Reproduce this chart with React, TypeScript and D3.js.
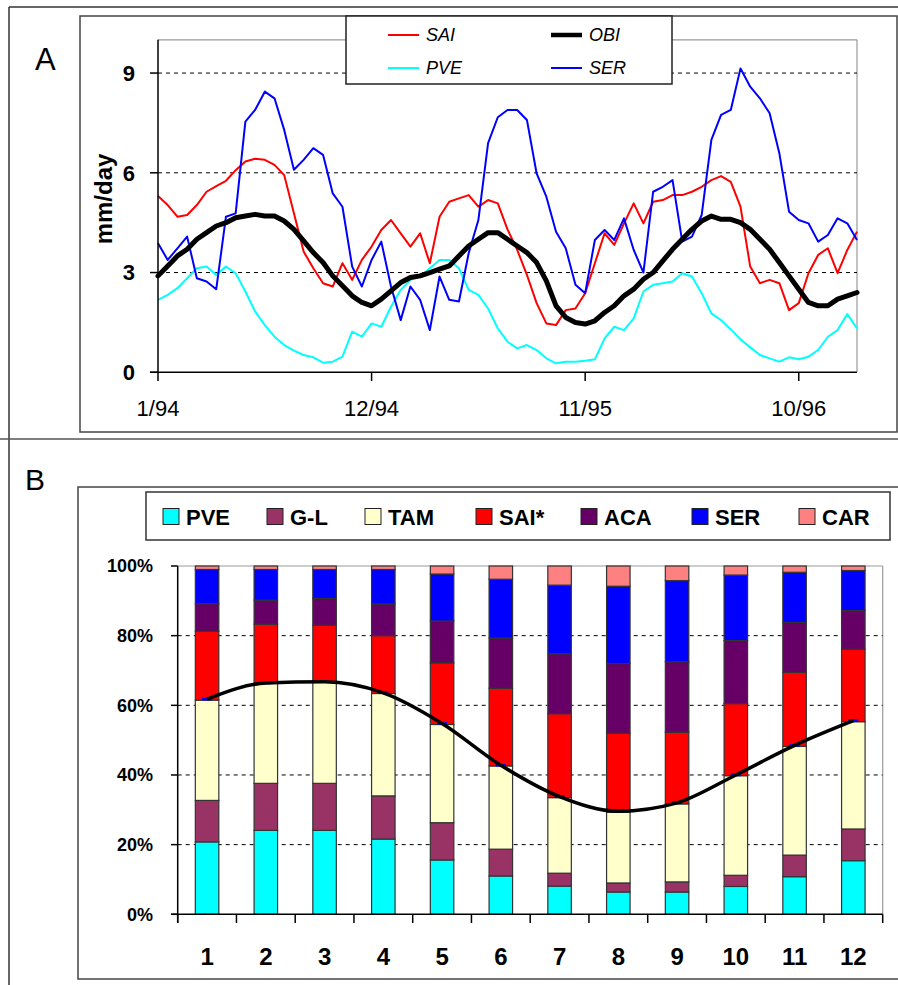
import React from 'react';
import * as d3 from 'd3';

// ---------- Panel A data (mm/day, semi-monthly samples from 1/94) ----------
const SAI = [5.30, 5.03, 4.68, 4.73, 5.03, 5.43, 5.60, 5.76, 6.08, 6.34, 6.42, 6.39, 6.24, 5.93, 4.78, 3.63, 3.13, 2.68, 2.58, 3.28, 2.78, 3.38, 3.78, 4.28, 4.58, 4.18, 3.78, 4.18, 3.28, 4.68, 5.13, 5.23, 5.33, 4.98, 5.18, 5.08, 4.30, 3.68, 2.93, 2.08, 1.47, 1.42, 1.87, 1.92, 2.38, 3.28, 4.18, 3.83, 4.48, 5.08, 4.48, 5.13, 5.18, 5.33, 5.33, 5.43, 5.58, 5.78, 5.90, 5.73, 4.98, 3.18, 2.68, 2.78, 2.68, 1.87, 2.08, 2.98, 3.53, 3.73, 2.98, 3.68, 4.23];
const OBI = [2.90, 3.20, 3.50, 3.70, 4.00, 4.20, 4.40, 4.50, 4.65, 4.70, 4.75, 4.70, 4.70, 4.55, 4.30, 3.95, 3.60, 3.30, 2.90, 2.60, 2.30, 2.10, 2.00, 2.20, 2.45, 2.70, 2.85, 2.90, 3.00, 3.10, 3.20, 3.50, 3.80, 4.00, 4.20, 4.20, 4.00, 3.80, 3.60, 3.30, 2.75, 2.00, 1.65, 1.50, 1.45, 1.55, 1.80, 2.00, 2.30, 2.50, 2.80, 3.00, 3.35, 3.70, 4.00, 4.30, 4.55, 4.70, 4.60, 4.60, 4.50, 4.30, 4.00, 3.70, 3.30, 2.90, 2.50, 2.10, 2.00, 2.00, 2.20, 2.30, 2.40];
const PVE = [2.18, 2.33, 2.53, 2.83, 3.13, 3.18, 2.93, 3.18, 2.98, 2.43, 1.83, 1.42, 1.07, 0.82, 0.65, 0.52, 0.45, 0.29, 0.32, 0.47, 1.22, 1.07, 1.47, 1.37, 1.97, 2.48, 2.78, 2.88, 3.13, 3.38, 3.38, 3.13, 2.48, 2.33, 1.92, 1.32, 0.92, 0.72, 0.82, 0.67, 0.42, 0.27, 0.32, 0.32, 0.35, 0.39, 1.02, 1.37, 1.27, 1.62, 2.43, 2.63, 2.68, 2.73, 2.98, 2.88, 2.38, 1.77, 1.57, 1.29, 0.99, 0.75, 0.52, 0.42, 0.32, 0.45, 0.39, 0.47, 0.67, 1.07, 1.27, 1.75, 1.32];
const SER = [3.88, 3.38, 3.73, 4.08, 2.83, 2.73, 2.50, 4.68, 4.78, 7.54, 7.89, 8.44, 8.24, 7.29, 6.09, 6.39, 6.74, 6.54, 5.38, 4.98, 3.18, 2.58, 3.38, 3.93, 2.58, 1.57, 2.58, 2.18, 1.27, 2.88, 2.18, 2.13, 3.58, 4.58, 6.89, 7.67, 7.89, 7.89, 7.59, 5.98, 5.28, 4.23, 3.73, 2.63, 2.38, 3.98, 4.28, 3.98, 4.63, 3.68, 3.00, 5.43, 5.58, 5.78, 3.93, 4.08, 4.73, 6.99, 7.74, 7.89, 9.14, 8.59, 8.24, 7.79, 6.59, 4.83, 4.58, 4.48, 3.93, 4.13, 4.63, 4.48, 3.98];
const A_TICK_MONTHS = [0, 11, 22, 33];
const A_TICK_LABELS = ['1/94', '12/94', '11/95', '10/96'];
const A_Y_TICKS = [0, 3, 6, 9];

// ---------- Panel B data (% share by month) ----------
const MONTHS = ['1', '2', '3', '4', '5', '6', '7', '8', '9', '10', '11', '12'];
const B_PVE = [20.8, 24.1, 24.1, 21.6, 15.6, 11.0, 8.1, 6.4, 6.4, 8.0, 10.8, 15.4];
const B_GL = [11.9, 13.5, 13.5, 12.4, 10.7, 7.7, 3.7, 2.6, 2.9, 3.2, 6.2, 9.1];
const B_TAM = [28.8, 28.7, 29.1, 29.4, 28.2, 23.9, 21.7, 20.3, 22.4, 28.6, 31.2, 30.8];
const B_SAI = [19.8, 17.0, 16.3, 16.6, 17.7, 22.3, 24.1, 22.7, 20.6, 20.7, 21.3, 20.8];
const B_ACA = [7.9, 6.9, 7.7, 9.1, 12.0, 14.4, 17.2, 20.0, 20.2, 18.1, 14.3, 11.1];
const B_SER = [9.8, 8.8, 8.3, 9.9, 13.5, 16.9, 19.7, 22.2, 23.3, 18.8, 14.4, 11.5];
const B_CAR = [1.0, 1.0, 1.0, 1.0, 2.3, 3.8, 5.5, 5.8, 4.2, 2.6, 1.8, 1.3];
const B_LINE = [61.8, 66.4, 66.8, 63.6, 54.8, 42.8, 33.8, 29.6, 32.0, 40.0, 48.5, 55.6];
const B_Y_TICKS = [0, 20, 40, 60, 80, 100];

const B_KEYS = ['PVE', 'G-L', 'TAM', 'SAI*', 'ACA', 'SER', 'CAR'];
const B_COLORS = ['#00FFFF', '#993366', '#FFFFCC', '#FF0000', '#660066', '#0000FF', '#FF8080'];

const FONT = "'Liberation Sans', Arial, Helvetica, sans-serif";

export default function App() {
  const W = 898, H = 985;

  // Panel A scales
  const xA = d3.scaleLinear().domain([0, 36]).range([158, 857]);
  const yA = d3.scaleLinear().domain([0, 10]).range([372.3, 39.8]);
  const tA = SAI.map((_, i) => i * 0.5);
  const lineA = (vals: number[]) =>
    d3.line<number>().x((_, i) => xA(tA[i])).y((d) => yA(d))(vals) || '';

  // Panel B scales
  const xB = d3
    .scaleBand<string>()
    .domain(MONTHS)
    .range([177.7, 882.7])
    .paddingInner(0.6)
    .paddingOuter(0.3);
  const yB = d3.scaleLinear().domain([0, 100]).range([914.3, 566]);
  const series = [B_PVE, B_GL, B_TAM, B_SAI, B_ACA, B_SER, B_CAR];
  const table = MONTHS.map((m, i) => {
    const row: any = { month: m };
    B_KEYS.forEach((k, j) => (row[k] = series[j][i]));
    return row;
  });
  const stacked = d3.stack<any>().keys(B_KEYS)(table);
  const step = xB.step();
  const bandStarts = d3.range(MONTHS.length + 1).map((i) => 177.7 + i * step);
  const cx = (m: string) => (xB(m) || 0) + xB.bandwidth() / 2;
  const lineB =
    d3
      .line<number>()
      .x((_, i) => cx(MONTHS[i]))
      .y((d) => yB(d))
      .curve(d3.curveMonotoneX)(B_LINE) || '';

  const legendA = [
    { name: 'SAI', color: '#FF0000', w: 2, x: 388, y: 35 },
    { name: 'OBI', color: '#000000', w: 4.5, x: 551, y: 35 },
    { name: 'PVE', color: '#00FFFF', w: 2, x: 388, y: 68 },
    { name: 'SER', color: '#0000FF', w: 2, x: 551, y: 68 },
  ];
  const legendBX = [163, 267, 365, 476, 581, 692, 799];

  return (
    <svg
      width={W}
      height={H}
      style={{ position: 'absolute', left: 0, top: 0, background: '#fff' }}
      fontFamily={FONT}
    >
      <rect x={0} y={0} width={W} height={H} fill="#fff" />
      {/* outer frame lines */}
      <line x1={9} y1={7} x2={898} y2={7} stroke="#333" strokeWidth={1.5} />
      <line x1={9} y1={7} x2={9} y2={985} stroke="#333" strokeWidth={1.5} />
      <line x1={0} y1={439} x2={898} y2={439} stroke="#555" strokeWidth={1.5} />
      <rect x={80} y={16} width={817} height={416} fill="none" stroke="#444" strokeWidth={1.5} />
      <rect x={78} y={487} width={830} height={492} fill="none" stroke="#444" strokeWidth={1.5} />

      {/* ---------------- Panel A ---------------- */}
      <text x={35} y={70} fontSize={31}>A</text>
      <line x1={158} y1={39.8} x2={857} y2={39.8} stroke="#999" strokeWidth={1.2} />
      <line x1={857} y1={39.8} x2={857} y2={372.3} stroke="#999" strokeWidth={1.2} />
      {A_Y_TICKS.filter((t) => t > 0).map((t) => (
        <line key={t} x1={158} x2={857} y1={yA(t)} y2={yA(t)} stroke="#000" strokeWidth={1} strokeDasharray="4,4" />
      ))}
      <path d={lineA(PVE)} fill="none" stroke="#00FFFF" strokeWidth={2} strokeLinejoin="round" />
      <path d={lineA(SAI)} fill="none" stroke="#FF0000" strokeWidth={2} strokeLinejoin="round" />
      <path d={lineA(SER)} fill="none" stroke="#0000FF" strokeWidth={2} strokeLinejoin="round" />
      <path d={lineA(OBI)} fill="none" stroke="#000" strokeWidth={5} strokeLinejoin="round" strokeLinecap="round" />
      <line x1={158} y1={39.8} x2={158} y2={372.3} stroke="#000" strokeWidth={1.5} />
      <line x1={150} y1={372.3} x2={857} y2={372.3} stroke="#000" strokeWidth={1.5} />
      {A_Y_TICKS.map((t) => (
        <g key={t}>
          <line x1={150} x2={158} y1={yA(t)} y2={yA(t)} stroke="#000" strokeWidth={1.5} />
          <text x={135} y={yA(t)} dy="0.36em" textAnchor="end" fontSize={22} fontWeight="bold">
            {t}
          </text>
        </g>
      ))}
      {A_TICK_MONTHS.map((m, i) => (
        <g key={m}>
          <line x1={xA(m)} x2={xA(m)} y1={372.3} y2={381} stroke="#000" strokeWidth={1.5} />
          <text x={xA(m)} y={416} textAnchor="middle" fontSize={22}>
            {A_TICK_LABELS[i]}
          </text>
        </g>
      ))}
      <text transform="translate(112,199) rotate(-90)" textAnchor="middle" fontSize={24} fontWeight="bold">
        mm/day
      </text>
      <rect x={346} y={16} width={326} height={68} fill="#fff" stroke="#222" strokeWidth={1.5} />
      {legendA.map((l) => (
        <g key={l.name}>
          <line x1={l.x} x2={l.x + 31} y1={l.y} y2={l.y} stroke={l.color} strokeWidth={l.w} />
          <text x={l.x + 38} y={l.y} dy="0.36em" fontSize={18} fontStyle="italic">
            {l.name}
          </text>
        </g>
      ))}

      {/* ---------------- Panel B ---------------- */}
      <text x={25} y={490} fontSize={30}>B</text>
      <rect x={146} y={492} width={744} height={48} fill="#fff" stroke="#333" strokeWidth={1.5} />
      {B_KEYS.map((k, i) => (
        <g key={k}>
          <rect x={legendBX[i]} y={508.5} width={16} height={16} fill={B_COLORS[i]} stroke="#222" strokeWidth={1} />
          <text x={legendBX[i] + 23} y={525} fontSize={22} fontWeight="bold">
            {k}
          </text>
        </g>
      ))}
      <line x1={177.7} y1={566} x2={882.7} y2={566} stroke="#999" strokeWidth={1.2} />
      <line x1={882.7} y1={566} x2={882.7} y2={914.3} stroke="#999" strokeWidth={1.2} />
      {B_Y_TICKS.filter((t) => t > 0 && t < 100).map((t) => (
        <line key={t} x1={177.7} x2={882.7} y1={yB(t)} y2={yB(t)} stroke="#000" strokeWidth={1} strokeDasharray="4,4" />
      ))}
      {stacked.map((s, j) => (
        <g key={s.key}>
          {s.map((d, i) => (
            <rect
              key={i}
              x={xB(MONTHS[i])}
              y={yB(d[1])}
              width={xB.bandwidth()}
              height={yB(d[0]) - yB(d[1])}
              fill={B_COLORS[j]}
              stroke="#333"
              strokeWidth={1.2}
            />
          ))}
        </g>
      ))}
      {B_LINE.map((v, i) => (
        <line key={i} x1={cx(MONTHS[i]) - 5} x2={cx(MONTHS[i]) + 5} y1={yB(v)} y2={yB(v)} stroke="#0000FF" strokeWidth={2.5} />
      ))}
      <path d={lineB} fill="none" stroke="#000" strokeWidth={3.5} strokeLinejoin="round" />
      <line x1={177.7} y1={566} x2={177.7} y2={923} stroke="#000" strokeWidth={1.5} />
      <line x1={171} y1={914.3} x2={882.7} y2={914.3} stroke="#000" strokeWidth={1.5} />
      {bandStarts.map((x, i) => (
        <line key={i} x1={x} x2={x} y1={914.3} y2={923} stroke="#000" strokeWidth={1.5} />
      ))}
      {B_Y_TICKS.map((t) => (
        <g key={t}>
          <line x1={171} x2={177.7} y1={yB(t)} y2={yB(t)} stroke="#000" strokeWidth={1.5} />
          <text x={153} y={yB(t)} dy="0.36em" textAnchor="end" fontSize={18} fontWeight="bold">
            {t}%
          </text>
        </g>
      ))}
      {MONTHS.map((m) => (
        <text key={m} x={cx(m)} y={965} textAnchor="middle" fontSize={24} fontWeight="bold">
          {m}
        </text>
      ))}
    </svg>
  );
}
